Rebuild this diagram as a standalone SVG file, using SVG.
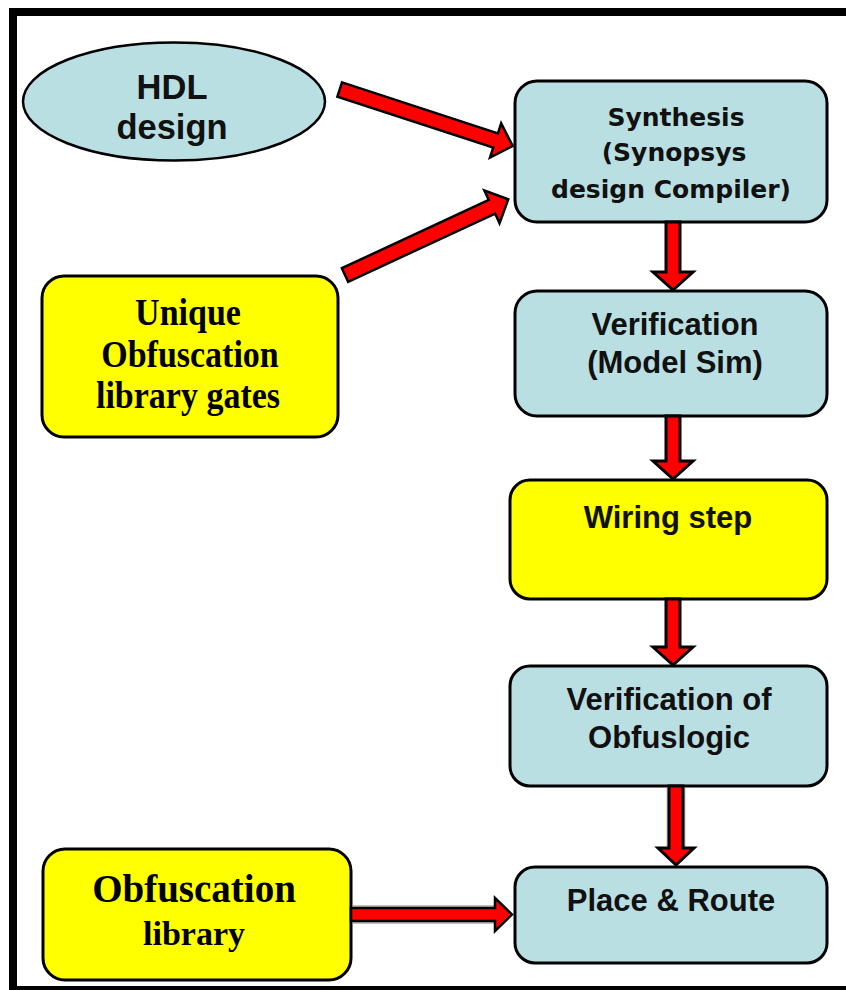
<svg xmlns="http://www.w3.org/2000/svg" width="846" height="990" viewBox="0 0 846 990">
  <style>
    .blue { fill: #badfe3; stroke: #000; stroke-width: 3; }
    .yellow { fill: #ffff00; stroke: #000; stroke-width: 3; }
    .sans { font-family: "Liberation Sans", Arial, sans-serif; font-weight: bold; font-size: 31px; fill: #111; text-anchor: middle; }
    .hdl { font-family: "Liberation Sans", Arial, sans-serif; font-weight: bold; font-size: 34.5px; fill: #111; text-anchor: middle; }
    .wide { font-family: "DejaVu Sans", Verdana, sans-serif; font-weight: bold; font-size: 25px; fill: #111; text-anchor: middle; }
    .serif { font-family: "Liberation Serif", "Times New Roman", serif; font-weight: bold; font-size: 34px; fill: #000; text-anchor: middle; }
    .serif-lg { font-family: "Liberation Serif", "Times New Roman", serif; font-weight: bold; font-size: 39px; fill: #000; text-anchor: middle; }
    .arrow { fill: #ff0000; stroke: #000; stroke-width: 2.5; stroke-linejoin: miter; }
    .arrow-v { fill: #ff0000; stroke: #000; stroke-width: 3; stroke-linejoin: miter; }
    .halo { fill: #999; opacity: 0.6; }
    .frame { fill: #000; }
  </style>

  <rect width="846" height="990" fill="#fff"/>

  <!-- outer frame (open on the right) -->
  <g id="frame">
    <rect class="frame" x="9" y="8" width="837" height="8"/>
    <rect class="frame" x="9" y="8" width="8" height="982"/>
    <rect class="frame" x="9" y="986" width="837" height="4"/>
  </g>

  <g id="hdl-design">
    <ellipse class="blue" cx="174" cy="101.5" rx="151" ry="59" style="stroke-width:2.5"/>
    <text class="hdl" x="172" y="99">HDL</text>
    <text class="hdl" x="172" y="139">design</text>
  </g>

  <g id="unique-obfuscation-gates">
    <rect class="yellow" x="42" y="276" width="296" height="161" rx="22"/>
    <text class="serif" transform="translate(188,325) scale(1,1.12)">Unique</text>
    <text class="serif" transform="translate(190,367) scale(1,1.12)">Obfuscation</text>
    <text class="serif" transform="translate(188,408) scale(1,1.12)">library gates</text>
  </g>

  <g id="obfuscation-library">
    <rect class="yellow" x="43" y="849" width="308" height="131" rx="22"/>
    <text class="serif-lg" x="194" y="902">Obfuscation</text>
    <text class="serif" x="194" y="945">library</text>
  </g>

  <g id="synthesis">
    <rect class="blue" x="515" y="81" width="312" height="141" rx="22"/>
    <text class="wide" x="676" y="126">Synthesis</text>
    <text class="wide" x="674" y="161">(Synopsys</text>
    <text class="wide" x="671" y="198">design Compiler)</text>
  </g>

  <g id="verification">
    <rect class="blue" x="515" y="291" width="312" height="125" rx="22"/>
    <text class="sans" x="675" y="335">Verification</text>
    <text class="sans" x="675" y="373">(Model Sim)</text>
  </g>

  <g id="wiring-step">
    <rect class="yellow" x="510" y="480" width="317" height="119" rx="20"/>
    <text class="sans" x="668" y="528">Wiring step</text>
  </g>

  <g id="verification-obfuslogic">
    <rect class="blue" x="510" y="666" width="317" height="120" rx="20"/>
    <text class="sans" x="669" y="710">Verification of</text>
    <text class="sans" x="669" y="748">Obfuslogic</text>
  </g>

  <g id="place-route">
    <rect class="blue" x="515" y="867" width="312" height="96" rx="20"/>
    <text class="sans" x="671" y="911">Place &amp; Route</text>
  </g>

  <g id="connectors">
    <!-- HDL design -> Synthesis -->
    <path class="arrow" transform="translate(339.7,89.5) rotate(18.1)" d="M0,-7.5 L164,-7.5 L164,-18 L182,0 L164,18 L164,7.5 L0,7.5 Z"/>
    <!-- library gates -> Synthesis -->
    <path class="arrow" transform="translate(345,275) rotate(-24.9)" d="M0,-7.5 L162,-7.5 L162,-18 L180,0 L162,18 L162,7.5 L0,7.5 Z"/>
    <!-- vertical flow -->
    <path class="arrow-v" d="M666,222 L666,272 L653,272 L673,290 L693,272 L680,272 L680,222 Z"/>
    <path class="arrow-v" d="M666,416 L666,461 L653,461 L673,479 L693,461 L680,461 L680,416 Z"/>
    <path class="arrow-v" d="M666,599 L666,647 L653,647 L673,665 L693,647 L680,647 L680,599 Z"/>
    <rect class="halo" x="666.5" y="787" width="19" height="60"/>
    <path class="arrow-v" d="M669,786 L669,848 L658,848 L676,865 L694,848 L683,848 L683,786 Z"/>
    <!-- Obfuscation library -> Place & Route -->
    <rect class="halo" x="352" y="905" width="142" height="19"/>
    <path class="arrow" d="M351,908 L495,908 L495,898 L512,914.5 L495,931 L495,921 L351,921 Z"/>
  </g>
</svg>
